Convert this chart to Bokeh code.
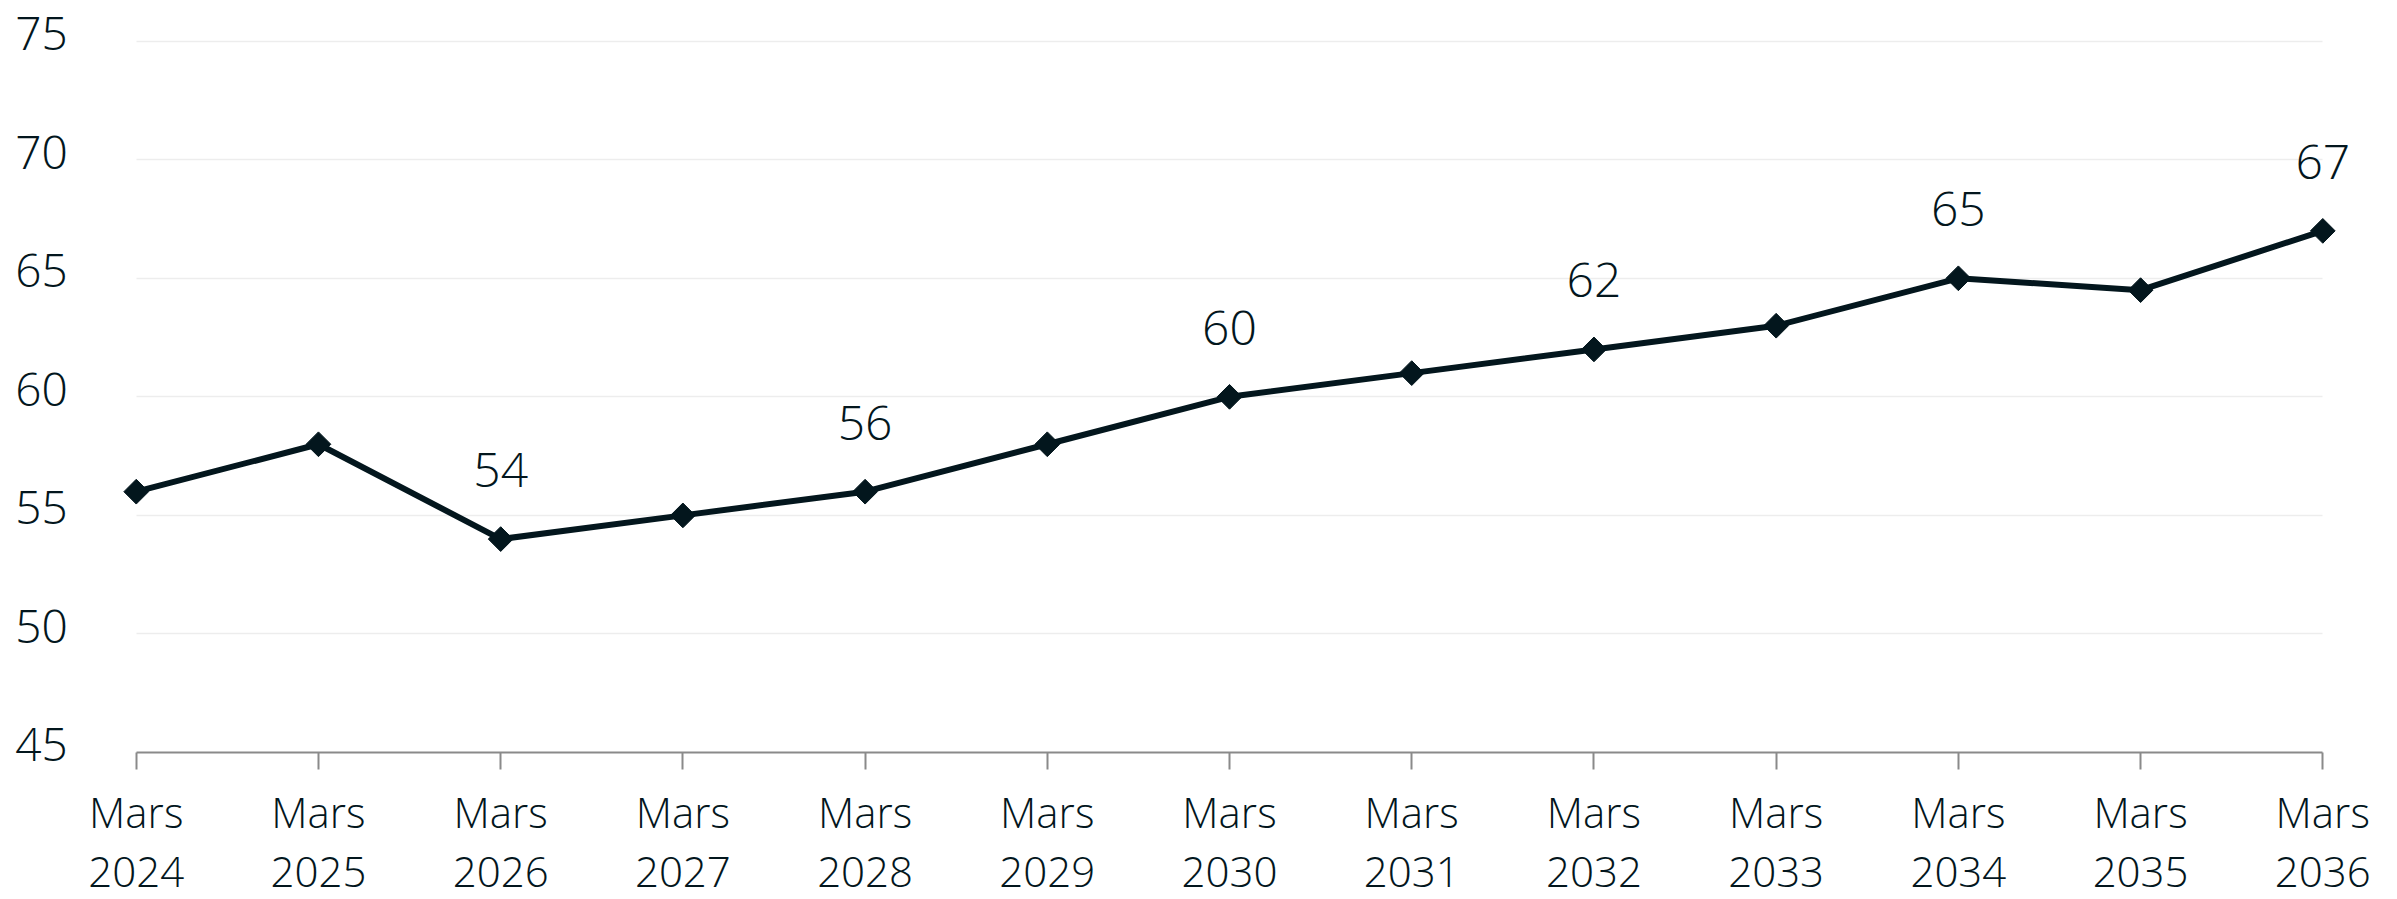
import math
from bokeh.plotting import figure
from bokeh.models import Range1d, FixedTicker, ColumnDataSource, LabelSet
from bokeh.core.properties import value
from bokeh.embed import file_html
from bokeh.resources import INLINE

# ---- data ----
years = [2024, 2025, 2026, 2027, 2028, 2029, 2030, 2031, 2032, 2033, 2034, 2035, 2036]
x_labels = ["Mars\n2024", "Mars\n2025", "Mars\n2026", "Mars\n2027", "Mars\n2028",
            "Mars\n2029", "Mars\n2030", "Mars\n2031", "Mars\n2032", "Mars\n2033",
            "Mars\n2034", "Mars\n2035", "Mars\n2036"]
values = [56, 58, 54, 55, 56, 58, 60, 61, 62, 63, 65, 64.5, 67]
label_years = [2026, 2028, 2030, 2032, 2034, 2036]
label_values = [54, 56, 60, 62, 65, 67]
label_texts = ["54", "56", "60", "62", "65", "67"]
y_ticks = [45, 50, 55, 60, 65, 70, 75]
y_tick_labels = ["45", "50", "55", "60", "65", "70", "75"]
grid_ticks = [50, 55, 60, 65, 70, 75]

DARK = "#03161d"
FONT = "Open Sans Light"

# plot area spans the whole canvas; the axis sits at the lowest tick value
p = figure(width=2397, height=899, output_backend="svg", toolbar_location=None,
           x_range=Range1d(years[0] - 0.745, years[-1] + 0.41),
           y_range=Range1d(y_ticks[0] - 6.2, y_ticks[-1] + 1.716),
           min_border_left=0, min_border_right=0, min_border_top=0, min_border_bottom=0)
p.outline_line_color = None
p.background_fill_color = "white"
p.border_fill_color = "white"

# grid
p.xgrid.grid_line_color = None
p.ygrid.ticker = FixedTicker(ticks=grid_ticks)
p.ygrid.grid_line_color = "#ededed"
p.ygrid.grid_line_width = 1.5
if "cross_bounds" in p.ygrid[0].properties():
    p.ygrid.cross_bounds = (years[0], years[-1])

# y axis: labels drawn as a label set inside the plot area
p.yaxis.visible = False

# x axis
p.xaxis.fixed_location = y_ticks[0]
p.xaxis.ticker = FixedTicker(ticks=years)
p.xaxis.bounds = (years[0], years[-1])
p.xaxis.major_label_overrides = {yr: lab for yr, lab in zip(years, x_labels)}
p.xaxis.axis_line_color = "#8a8a8a"
p.xaxis.axis_line_width = 2
p.xaxis.major_tick_line_color = "#8a8a8a"
p.xaxis.major_tick_line_width = 2
p.xaxis.major_tick_in = 0
p.xaxis.major_tick_out = 17
p.xaxis.minor_tick_line_color = None
p.xaxis.major_label_standoff = 14
p.xaxis.major_label_text_font = FONT
p.xaxis.major_label_text_font_size = "42px"
p.xaxis.major_label_text_color = DARK
p.xaxis.major_label_text_line_height = 1.03

src = ColumnDataSource(dict(x=years, y=values))
p.line("x", "y", source=src, line_color=DARK, line_width=6)
p.scatter("x", "y", source=src, marker="square", size=17.5, angle=math.pi / 4,
          fill_color=DARK, line_color=DARK)

# data labels
lsrc = ColumnDataSource(dict(x=label_years, y=label_values, t=label_texts))
p.add_layout(LabelSet(x="x", y="y", text="t", source=lsrc, text_align="center",
                      text_baseline="alphabetic", y_offset=52,
                      text_font=value(FONT), text_font_size="48px", text_color=DARK))

# y tick labels
ysrc = ColumnDataSource(dict(x=[years[0]] * len(y_ticks), y=y_ticks, t=y_tick_labels))
p.add_layout(LabelSet(x="x", y="y", text="t", source=ysrc, text_align="left",
                      text_baseline="alphabetic", x_offset=-121, y_offset=-9,
                      text_font=value(FONT), text_font_size="46px", text_color=DARK))

open("out.html", "w").write(file_html(p, INLINE))
